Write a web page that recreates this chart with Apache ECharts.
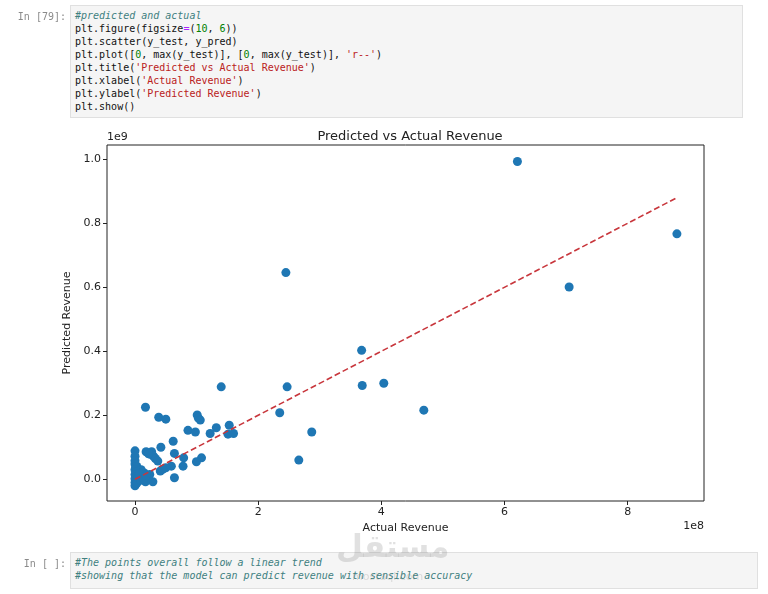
<!DOCTYPE html>
<html>
<head>
<meta charset="utf-8">
<script src="https://cdn.jsdelivr.net/npm/echarts@6/dist/echarts.min.js"></script>
<style>
  html, body { margin:0; padding:0; background:#fff; width:768px; height:594px; overflow:hidden; }
  #chart { position:absolute; left:0; top:0; width:768px; height:594px; }
  .prompt { position:absolute; font-family:'DejaVu Sans Mono', monospace; font-size:10px; color:#8a8a8a; line-height:13px; text-align:right; width:64px; left:2px; }
  .cell { position:absolute; background:#f5f5f5; border:1px solid #e0e0e0; box-sizing:border-box;
          font-family:'DejaVu Sans Mono', monospace; font-size:10px; line-height:13px; color:#111; padding:3px 0 0 4px; white-space:pre; }
  .c { color:#408080; font-style:italic; }
  .n { color:#008000; }
  .o { color:#AA22FF; }
  .s { color:#BA2121; }
  .wm1 { position:absolute; left:336px; top:528px; font-family:'DejaVu Sans', sans-serif; font-weight:bold; font-size:31px; color:rgba(120,120,120,0.22); z-index:5; }
  .wm2 { position:absolute; left:352px; top:570px; font-family:'DejaVu Sans', sans-serif; font-size:11px; color:rgba(120,120,120,0.22); z-index:5; }
</style>
</head>
<body>
<div id="chart"></div>
<div class="prompt" style="top:10px;">In [79]:</div>
<div class="cell" style="left:70px; top:5px; width:673px; height:113px;"><span class="c">#predicted and actual</span>
plt.figure(figsize<span class="o">=</span>(<span class="n">10</span>, <span class="n">6</span>))
plt.scatter(y_test, y_pred)
plt.plot([<span class="n">0</span>, max(y_test)], [<span class="n">0</span>, max(y_test)], <span class="s">'r--'</span>)
plt.title(<span class="s">'Predicted vs Actual Revenue'</span>)
plt.xlabel(<span class="s">'Actual Revenue'</span>)
plt.ylabel(<span class="s">'Predicted Revenue'</span>)
plt.show()</div>
<div class="prompt" style="top:557px;">In [ ]:</div>
<div class="cell" style="left:70px; top:552px; width:688px; height:37px;"><span class="c">#The points overall follow a linear trend</span>
<span class="c">#showing that the model can predict revenue with sensible accuracy</span></div>
<div class="wm1">مستقل</div>
<div class="wm2">mostaql.com</div>
<script>
// Values: actual revenue in units of 1e8, predicted revenue in units of 1e9
const X_EXP = 8;
const Y_EXP = 9;
const actualRevenue = [
  6.21, 7.05, 8.80, 2.45,
  3.68, 3.69, 4.04, 4.69, 2.47, 2.35, 2.87, 2.66,
  1.40, 0.17, 0.385, 0.50, 1.01, 1.03, 1.06, 0.86, 0.98, 1.22, 1.32, 1.53, 1.51, 1.60,
  0.62, 0.42, 0.64, 0.79, 1.08, 0.997, 0.78, 0.59, 0.64, 0.50, 0.41, 0.45,
  0.18, 0.27, 0.25, 0.30, 0.33, 0.37, 0.22, 0.29, 0.17, 0.20, 0.24, 0.15, 0.12, 0.10, 0.08, 0.06, 0.05, 0.04, 0.03,
  0.00, 0.00, 0.00, 0.00, 0.01, 0.00, 0.02, 0.00, 0.01, 0.00, 0.02, 0.00, 0.01, 0.00, 0.03, 0.05, 0.07, 0.09, 0.14, 0.18
];
const predictedRevenue = [
  0.993, 0.601, 0.767, 0.646,
  0.403, 0.293, 0.300, 0.216, 0.289, 0.208, 0.148, 0.060,
  0.289, 0.225, 0.194, 0.188, 0.201, 0.191, 0.185, 0.153, 0.148, 0.143, 0.161, 0.169, 0.141, 0.143,
  0.119, 0.100, 0.081, 0.067, 0.067, 0.055, 0.041, 0.041, 0.005, 0.036, 0.026, 0.031,
  0.086, 0.086, 0.078, 0.072, 0.065, 0.057, 0.080, -0.0075, -0.008, 0.005, 0.015, 0.020, 0.010, 0.030, 0.000, 0.015, -0.005, 0.025, 0.040,
  0.089, 0.072, 0.058, 0.048, 0.038, 0.030, 0.022, 0.015, 0.008, 0.002, -0.004, -0.010, -0.015, -0.020, -0.012, 0.005, 0.018, -0.003, 0.000, 0.012
];
const xTickValues = [0, 2, 4, 6, 8];
const xTickLabels = ['0', '2', '4', '6', '8'];
const yTickValues = [0, 0.2, 0.4, 0.6, 0.8, 1.0];
const yTickLabels = ['0.0', '0.2', '0.4', '0.6', '0.8', '1.0'];

const scatterData = actualRevenue.map((x, i) => [x, predictedRevenue[i]]);
const xMax = Math.max(...actualRevenue);
const lineData = [[0, 0], [xMax, xMax * Math.pow(10, X_EXP - Y_EXP)]];

const chart = echarts.init(document.getElementById('chart'), null, { renderer: 'canvas' });
const FONT = 'DejaVu Sans';
chart.setOption({
  animation: false,
  backgroundColor: 'transparent',
  grid: { left: 107, right: 64, top: 145, bottom: 93, show: true, borderColor: '#222', borderWidth: 1, backgroundColor: 'transparent' },
  title: {
    text: 'Predicted vs Actual Revenue',
    left: 405, top: 125, textAlign: 'center',
    textStyle: { fontFamily: FONT, fontSize: 13, fontWeight: 'normal', color: '#222' }
  },
  xAxis: {
    type: 'value', min: -0.455, max: 9.24,
    name: 'Actual Revenue', nameLocation: 'middle', nameGap: 22,
    nameTextStyle: { fontFamily: FONT, fontSize: 11, color: '#222' },
    axisLine: { show: false, onZero: false },
    axisTick: { show: true, length: 4, inside: false, customValues: xTickValues, lineStyle: { color: '#222' } },
    axisLabel: { customValues: xTickValues, fontFamily: FONT, fontSize: 11, color: '#222', margin: 6,
      formatter: v => xTickLabels[xTickValues.indexOf(v)] },
    splitLine: { show: false }
  },
  yAxis: {
    type: 'value', min: -0.0678, max: 1.0447,
    name: 'Predicted Revenue', nameLocation: 'middle', nameGap: 27, nameRotate: 90,
    nameTextStyle: { fontFamily: FONT, fontSize: 11, color: '#222' },
    axisLine: { show: false, onZero: false },
    axisTick: { show: true, length: 4, customValues: yTickValues, lineStyle: { color: '#222' } },
    axisLabel: { customValues: yTickValues, fontFamily: FONT, fontSize: 11, color: '#222', margin: 6,
      formatter: v => yTickLabels[yTickValues.findIndex(t => Math.abs(t - v) < 1e-9)] },
    splitLine: { show: false }
  },
  graphic: [
    { type: 'text', left: 107, top: 132, style: { text: '1e' + Y_EXP, font: '11px "DejaVu Sans"', fill: '#222' } },
    { type: 'text', right: 64, top: 521, style: { text: '1e' + X_EXP, font: '11px "DejaVu Sans"', fill: '#222', textAlign: 'right' } }
  ],
  series: [
    {
      type: 'scatter', data: scatterData, symbolSize: 9,
      itemStyle: { color: '#1f77b4', opacity: 1 }, z: 2
    },
    {
      type: 'line', data: lineData, showSymbol: false, symbol: 'none',
      lineStyle: { color: '#c8363c', width: 1.6, type: [6, 3] }, z: 3
    }
  ]
});
</script>
</body>
</html>
